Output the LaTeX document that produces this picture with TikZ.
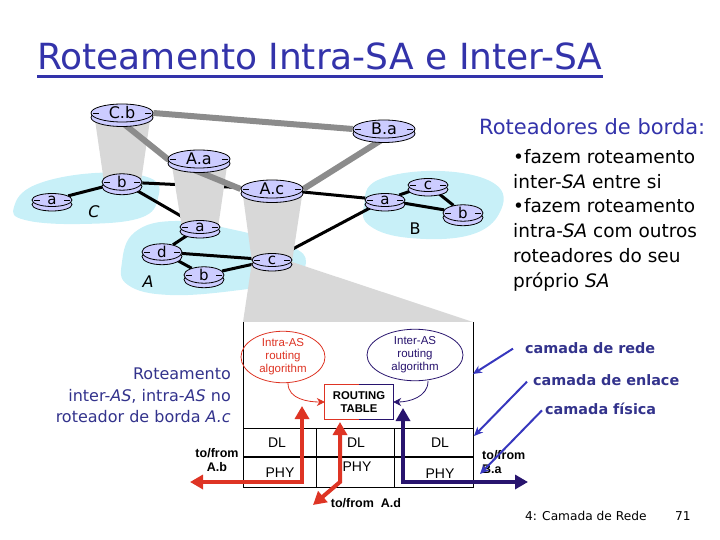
\documentclass[tikz,border=0pt]{standalone}
\usepackage{fontspec}
\setmainfont{DejaVu Sans}
\newfontfamily\arialfont{Liberation Sans}
\usetikzlibrary{shapes.geometric,arrows.meta}
\definecolor{rtrfill}{RGB}{204,204,255}
\definecolor{asfill}{RGB}{200,240,248}
\definecolor{pillargray}{RGB}{216,216,216}
\definecolor{linkgray}{RGB}{140,140,140}
\definecolor{ttlblue}{RGB}{51,51,170}
\definecolor{txtnavy}{RGB}{51,51,140}
\definecolor{ptrblue}{RGB}{55,55,190}
\definecolor{algred}{RGB}{222,52,36}
\definecolor{algnavy}{RGB}{40,20,110}
\pgfdeclarelayer{back}
\pgfdeclarelayer{mid}
\pgfsetlayers{back,mid,main}
\begin{document}
\begin{tikzpicture}[x=1pt,y=-1pt,
 rtr/.style={ellipse,draw,thick,fill=rtrfill,inner sep=0pt,
  minimum width=62,minimum height=18,font=\fontsize{16}{16}\selectfont,
  preaction={draw=black,thick,fill=rtrfill,transform canvas={yshift=-4.5pt}},
  path picture={\draw[thick] ([xshift=2pt]path picture bounding box.west) -- ++(6pt,0pt);
   \draw[thick] ([xshift=-2pt]path picture bounding box.east) -- ++(-6pt,0pt);}},
 srtr/.style={rtr,minimum width=40,minimum height=13,font=\fontsize{15}{15}\selectfont},
 aslabel/.style={font=\fontsize{16}{16}\selectfont},
 link/.style={line width=3pt},
 glink/.style={line width=6pt,linkgray},
 redpipe/.style={line width=4pt,algred,{Triangle[length=13pt,width=14pt]}-{Triangle[length=13pt,width=14pt]}},
 navypipe/.style={line width=4pt,algnavy,{Triangle[length=13pt,width=14pt]}-{Triangle[length=13pt,width=14pt]}},
 ptr/.style={line width=2pt,ptrblue,-{Stealth[length=9pt,width=8pt]}},
 tofrom/.style={font=\arialfont\bfseries\fontsize{12.5}{14}\selectfont,inner sep=0pt},
 cell/.style={font=\arialfont\fontsize{14}{14}\selectfont},
 alg/.style={ellipse,thick,inner sep=0pt,align=center,font=\arialfont\fontsize{11.5}{13}\selectfont},
 layerlbl/.style={anchor=base west,inner sep=0pt,text=txtnavy,font=\bfseries\fontsize{14.4}{14.4}\selectfont}
]
\useasboundingbox (0,0) rectangle (720,540);

% title
\node[anchor=base west,inner sep=0pt,text=ttlblue,font=\fontsize{36}{36}\selectfont] (title) at (37,70) {Roteamento Intra-SA e Inter-SA};
\draw[ttlblue,line width=3pt] ([yshift=-7pt]title.base west) -- ([yshift=-7pt]title.base east);

% routers
\node[rtr] (cbtop) at (122,113) {C.b};
\node[rtr] (aatop) at (199,159) {A.a};
\node[rtr] (actop) at (272,189) {A.c};
\node[rtr] (batop) at (384,129) {B.a};
\node[srtr] (ca) at (52,200) {a};
\node[srtr] (cb) at (122,182) {b};
\node[srtr] (aa) at (200,227) {a};
\node[srtr] (ad) at (162,252) {d};
\node[srtr] (ab) at (204,275) {b};
\node[srtr] (ac) at (272,260) {c};
\node[srtr] (ba) at (385,200) {a};
\node[srtr] (bc) at (428,185) {c};
\node[srtr] (bb) at (463,213) {b};
\node[aslabel] (asc) at (94,212) {\textit{C}};
\node[aslabel] (asa) at (148,282) {\textit{A}};
\node[aslabel] (asb) at (415,229) {B};

\begin{pgfonlayer}{back}
 \fill[asfill] plot[smooth cycle,tension=0.7] coordinates {(14,207) (35,185) (95,173) (150,178) (158,198) (140,218) (80,224) (25,220)};
 \fill[asfill] plot[smooth cycle,tension=0.7] coordinates {(122,262) (135,232) (175,221) (235,230) (290,246) (306,262) (290,280) (240,290) (170,295) (128,285)};
 \fill[asfill] plot[smooth cycle,tension=0.7] coordinates {(364,205) (378,180) (440,171) (495,184) (500,212) (470,235) (410,238) (370,226)};
 \draw[link] (ca) -- (cb);
 \draw[link] (cb) -- (aa);
 \draw[link] (cb) -- (actop);
 \draw[link] (aa) -- (ad);
 \draw[link] (ad) -- (ab);
 \draw[link] (ad) -- (ac);
 \draw[link] (ab) -- (ac);
 \draw[link] (ac) -- (ba);
 \draw[link] (actop) -- (ba);
 \draw[link] (ba) -- (bc);
 \draw[link] (ba) -- (bb);
 \draw[link] (bc) -- (bb);
\end{pgfonlayer}

\begin{pgfonlayer}{mid}
 \fill[pillargray] (95,120) -- (150,120) -- (141,182) -- (104,182) -- cycle;
 \fill[pillargray] (172,166) -- (227,166) -- (218,228) -- (182,228) -- cycle;
 \fill[pillargray] (243,196) -- (302,196) -- (292,262) -- (473,322) -- (243,322) -- (252,262) -- cycle;
 \draw[glink] (cbtop.south) -- (aatop.west) -- (actop.west);
 \draw[glink] (cbtop.east) -- (batop.west);
 \draw[glink] (actop.east) -- (batop.south);
\end{pgfonlayer}

% border router A.c inside
\fill[white] (243,322) rectangle (473,487);
\draw[thick] (243,322) -- (243,487) -- (473,487) -- (473,322);
\draw[thick] (243,428) -- (473,428);
\draw[line width=2.5pt] (243,457) -- (473,457);
\draw[thick] (316,428) -- (316,487);
\draw[thick] (394,428) -- (394,487);
\node[cell] (dl1) at (277,443) {DL};
\node[cell] (dl2) at (356,443) {DL};
\node[cell] (dl3) at (440,443) {DL};
\node[cell] (phy1) at (280,473) {PHY};
\node[cell] (phy2) at (357,467) {PHY};
\node[cell] (phy3) at (440,474) {PHY};

\node[alg,draw=algred,text=algred,minimum width=84,minimum height=50] (intra) at (283,357) {Intra-AS\\routing\\algorithm};
\node[alg,draw=algnavy,text=algnavy,minimum width=96,minimum height=44] (inter) at (415,355) {Inter-AS\\routing\\algorithm};
\node[minimum width=68,minimum height=35,inner sep=0pt,align=center,font=\arialfont\bfseries\fontsize{11.3}{12.5}\selectfont] (tbl) at (359,402) {ROUTING\\TABLE};
\draw[thick,algred] (tbl.north) -| (tbl.south west) -- (tbl.south);
\draw[thick,algnavy] (tbl.north) -| (tbl.south east) -- (tbl.south);
\draw[thick,algred,-{Stealth[length=8pt,width=8pt]}] ([xshift=5pt]intra.south) to[out=-90,in=180] (tbl.west);
\draw[thick,algnavy,-{Stealth[length=8pt,width=8pt]}] ([xshift=13pt]inter.south) to[out=-90,in=0] (tbl.east);

% pipes
\coordinate (toab) at (190,482);
\coordinate (upl) at (302,406);
\coordinate (upm) at (340,422);
\coordinate (toad) at (313,505);
\coordinate (upr) at (403,408);
\coordinate (toba) at (528,482);
\draw[redpipe] (toab) -| (upl);
\draw[redpipe] (upm) -- (upm |- toab) -- (toad);
\draw[navypipe] (upr) |- (toba);
\node[tofrom,align=center] (lab) at (217,460) {to/from\\A.b};
\node[tofrom,anchor=base] (lad) at (366,507) {to/from\ \ A.d};
\node[tofrom,align=left,anchor=west] (lba) at (482,462) {to/from\\B.a};

% layer labels
\node[layerlbl] (lnet) at (525,353) {camada de rede};
\node[layerlbl] (llink) at (533,385) {camada de enlace};
\node[layerlbl] (lphy) at (545,414) {camada física};
\coordinate (pnet) at (473,374);
\coordinate (plink) at (474,436);
\coordinate (pphy) at (480,474);
\draw[ptr] ([xshift=-12pt,yshift=-1pt]lnet.west) -- (pnet);
\draw[ptr] ([xshift=-6pt,yshift=-2pt]llink.west) -- (plink);
\draw[ptr] ([xshift=-3pt,yshift=-2pt]lphy.west) -- (pphy);

% texts
\node[anchor=north east,inner sep=0pt,align=right,text=txtnavy,font=\fontsize{16}{21.5}\selectfont] (ltxt) at (231,368) {Roteamento\\inter-\textit{AS}, intra-\textit{AS} no\\roteador de borda \textit{A.c}};
\node[anchor=base west,inner sep=0pt,text=ttlblue,font=\fontsize{21}{21}\selectfont] (rhead) at (479,135) {Roteadores de borda:};
\node[anchor=north west,inner sep=0pt,align=left,font=\fontsize{18.5}{24.8}\selectfont] (rtxt) at (513,149) {•fazem roteamento\\inter-\textit{SA} entre si\\•fazem roteamento\\intra-\textit{SA} com outros\\roteadores do seu\\próprio \textit{SA}};
\node[anchor=base west,inner sep=0pt,font=\fontsize{12.2}{12.2}\selectfont] (foot) at (525,520) {4: Camada de Rede};
\node[anchor=base west,inner sep=0pt,font=\fontsize{12.2}{12.2}\selectfont] (pnum) at (675,520) {71};
\end{tikzpicture}
\end{document}
